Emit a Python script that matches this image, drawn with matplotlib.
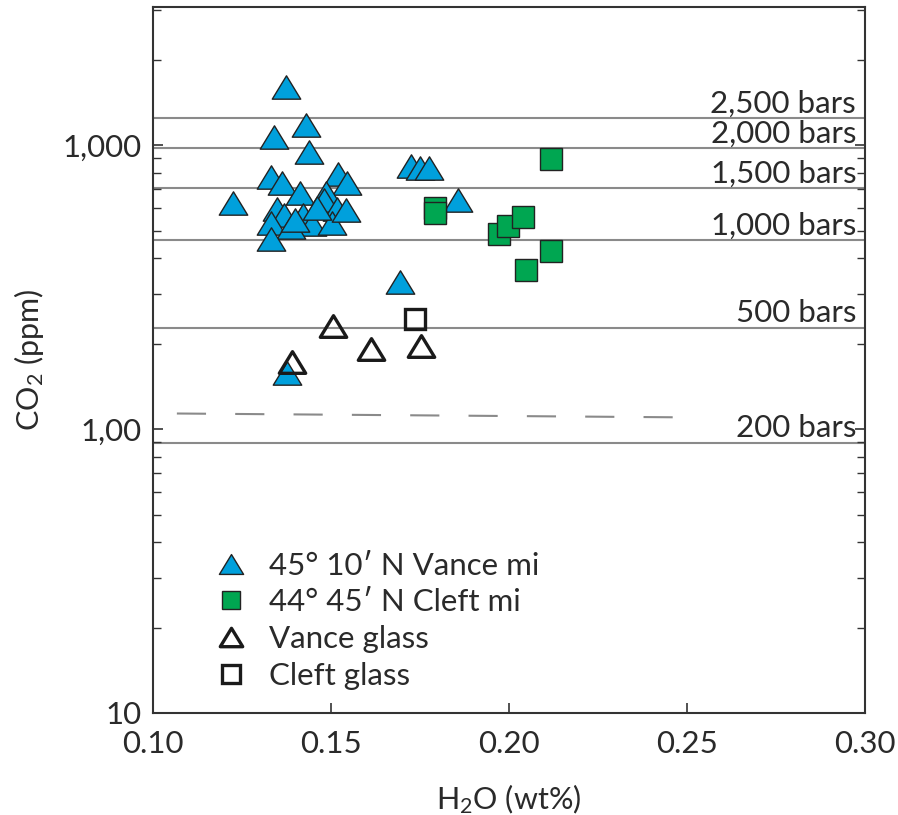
import matplotlib
matplotlib.use('Agg')
import matplotlib.pyplot as plt
from matplotlib.path import Path
from matplotlib.ticker import FixedLocator, FixedFormatter, LogLocator, NullFormatter

plt.rcParams['font.family'] = ['Lato', 'DejaVu Sans']
plt.rcParams['mathtext.fontset'] = 'custom'
plt.rcParams['mathtext.rm'] = 'Lato'
plt.rcParams['mathtext.it'] = 'Lato:italic'

TXT = '#2a2a2a'

# 45° 10' N Vance melt inclusions
vance_mi_h2o = [0.1374, 0.1430, 0.1340, 0.1438, 0.1332, 0.1363, 0.1520, 0.1545,
                0.1225, 0.1413, 0.1486, 0.1481, 0.1517, 0.1348, 0.1368, 0.1422,
                0.1447, 0.1503, 0.1332, 0.1388, 0.1332, 0.1542, 0.1725, 0.1750,
                0.1775, 0.1857, 0.1694, 0.1377, 0.1400, 0.1460]
vance_mi_co2 = [1602, 1176, 1067, 944, 771, 735, 790, 735,
                624, 677, 677, 640, 595, 595, 566, 566,
                526, 531, 531, 514, 466, 590, 843, 830,
                830, 640, 331, 158, 545, 600]

# 44° 45' N Cleft melt inclusions
cleft_mi_h2o = [0.2118, 0.1792, 0.1792, 0.1973, 0.1998, 0.2039, 0.2118, 0.2048]
cleft_mi_co2 = [892, 600, 576, 485, 518, 557, 423, 365]

# glasses
vance_gl_h2o = [0.1506, 0.1613, 0.1753, 0.1391]
vance_gl_co2 = [230, 191, 197, 173]
cleft_gl_h2o = [0.1736]
cleft_gl_co2 = [245]

# isobars
isobar_labels = ['2,500 bars', '2,000 bars', '1,500 bars', '1,000 bars', '500 bars', '200 bars']
isobar_co2 = [1245, 975, 705, 463, 228, 89.6]
dashed_h2o = [0.1067, 0.2496]
dashed_co2 = [113.5, 110]

ytick_vals = [10, 100, 1000]
ytick_text = ['10', '1,00', '1,000']
xtick_vals = [0.10, 0.15, 0.20, 0.25, 0.30]
xtick_text = ['0.10', '0.15', '0.20', '0.25', '0.30']

tri = Path([(0, 0.82), (-1, -0.82), (1, -0.82), (0, 0.82)],
           [Path.MOVETO, Path.LINETO, Path.LINETO, Path.CLOSEPOLY])

fig = plt.figure(figsize=(8.98, 8.15), dpi=100)
ax = fig.add_axes([0.1704, 0.1252, 0.7929, 0.8662])
ax.set_yscale('log')
ax.set_xlim(0.10, 0.30)
ax.set_ylim(10, 3070)

for v in isobar_co2:
    ax.axhline(v, color='#8a8a8a', lw=1.5, zorder=1)
dl, = ax.plot(dashed_h2o, dashed_co2, color='#8a8a8a', lw=1.5, zorder=1)
dl.set_dashes([14, 14])

for lab, v in zip(isobar_labels, isobar_co2):
    ax.annotate(lab, xy=(0.2975, v), xytext=(0, 4), textcoords='offset points',
                ha='right', va='baseline', fontsize=22.5, color=TXT, zorder=2)

ax.plot(vance_mi_h2o, vance_mi_co2, ls='none', marker=tri, ms=20.5,
        mfc='#00a0dc', mec='#222222', mew=1.0, zorder=3, label='45° 10′ N Vance mi')
ax.plot(cleft_mi_h2o, cleft_mi_co2, ls='none', marker='s', ms=16,
        mfc='#00a651', mec='#222222', mew=1.0, zorder=3, label='44° 45′ N Cleft mi')
ax.plot(vance_gl_h2o, vance_gl_co2, ls='none', marker=tri, ms=19,
        mfc='none', mec='#1a1a1a', mew=2.4, zorder=4, label='Vance glass')
ax.plot(cleft_gl_h2o, cleft_gl_co2, ls='none', marker='s', ms=15,
        mfc='none', mec='#1a1a1a', mew=2.4, zorder=4, label='Cleft glass')

ax.yaxis.set_major_locator(FixedLocator(ytick_vals))
ax.yaxis.set_major_formatter(FixedFormatter(ytick_text))
ax.yaxis.set_minor_locator(LogLocator(base=10, subs=range(2, 10)))
ax.yaxis.set_minor_formatter(NullFormatter())
ax.xaxis.set_major_locator(FixedLocator(xtick_vals))
ax.xaxis.set_major_formatter(FixedFormatter(xtick_text))

ax.tick_params(axis='y', which='both', direction='in', left=True, right=True,
               labelsize=22.5, labelcolor=TXT, color='#333333', pad=8)
ax.tick_params(axis='y', which='major', length=7, width=1.2)
ax.tick_params(axis='y', which='minor', length=6, width=1.0)
ax.tick_params(axis='x', direction='in', length=7, width=1.2, labelsize=22.5,
               labelcolor=TXT, color='#333333', pad=12)

for s in ax.spines.values():
    s.set_color('#333333')
    s.set_linewidth(1.5)

ax.set_xlabel('H$_2$O (wt%)', fontsize=22, color=TXT, labelpad=18)
ax.set_ylabel('CO$_2$ (ppm)', fontsize=22, color=TXT, labelpad=12)

ax.legend(loc='lower left', bbox_to_anchor=(0.048, -0.007), frameon=False,
          fontsize=22.5, labelcolor=TXT, handlelength=1.0, handletextpad=0.72,
          labelspacing=0.28, markerscale=0.85)

fig.savefig('out.png', dpi=100)
